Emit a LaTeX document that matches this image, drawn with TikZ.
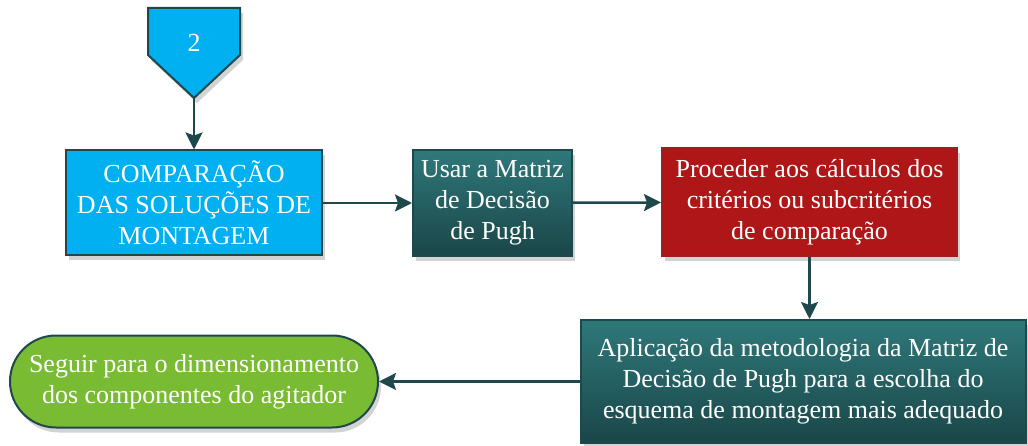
\documentclass[tikz,border=0pt]{standalone}
\usepackage{fontspec}
\setmainfont{Liberation Serif}
\newfontfamily\boxfont{Liberation Serif}
\usepackage{xcolor}
\usetikzlibrary{shapes,arrows,positioning}
\usetikzlibrary{arrows.meta}
\usetikzlibrary{shadows}

\definecolor{edgeteal}{RGB}{30,72,75}
\definecolor{boxcyan}{RGB}{0,176,240}
\definecolor{tealtop}{RGB}{47,120,122}
\definecolor{tealbottom}{RGB}{26,70,72}
\definecolor{boxred}{RGB}{174,22,24}
\definecolor{rededge}{RGB}{160,30,30}
\definecolor{boxgreen}{RGB}{122,187,52}

\tikzset{
  shade/.style={drop shadow={shadow xshift=3pt,shadow yshift=-5pt,opacity=0.35}},
  box/.style={rectangle, draw=edgeteal, line width=2pt, text=white, align=center,
    inner sep=0pt, font=\boxfont\fontsize{26}{31}\selectfont, shade},
  tealbox/.style={box, top color=tealtop, bottom color=tealbottom},
  conn/.style={draw=edgeteal, line width=2.5pt,
    -{Stealth[length=17pt,width=17pt,inset=3pt]}}
}

\begin{document}
\begin{tikzpicture}[x=1pt,y=-1pt]
  \useasboundingbox (0,0) rectangle (1028,446);
  % connector from page 2
  \draw[draw=edgeteal, fill=boxcyan, line width=2pt, shade]
    (148,8) -- (240,8) -- (240,55) -- (194,98) -- (148,55) -- cycle;
  \coordinate (tip) at (194,98);
  \node[text=white, font=\boxfont\fontsize{26}{31}\selectfont] (page) at (194,43) {2};

  \node[box, fill=boxcyan, minimum width=256pt, minimum height=105pt] (compare) at (194,203)
    {COMPARAÇÃO\\DAS SOLUÇÕES DE\\MONTAGEM};
  \node[tealbox, minimum width=159pt, minimum height=106pt] (pugh) at (492.5,203)
    {Usar a Matriz\\de Decisão\\de Pugh};
  \node[box, draw=rededge, fill=boxred, minimum width=295pt, minimum height=108pt] (calc) at (809.5,202)
    {Proceder aos cálculos dos\\critérios ou subcritérios\\de comparação};
  \node[tealbox, minimum width=445pt, minimum height=123pt] (apply) at (803,381.5)
    {Aplicação da metodologia da Matriz de\\Decisão de Pugh para a escolha do\\esquema de montagem mais adequado};
  \node[box, fill=boxgreen, rounded corners=46pt, minimum width=368pt, minimum height=92pt] (next) at (194,381.5)
    {Seguir para o dimensionamento\\dos componentes do agitador};

  \draw[conn] (tip) -- (tip |- compare.north);
  \draw[conn] (compare) -- (pugh);
  \draw[conn] (pugh) -- (calc);
  \draw[conn] (calc.south) -- (calc.south |- apply.north);
  \draw[conn] (apply) -- (next);
\end{tikzpicture}
\end{document}
